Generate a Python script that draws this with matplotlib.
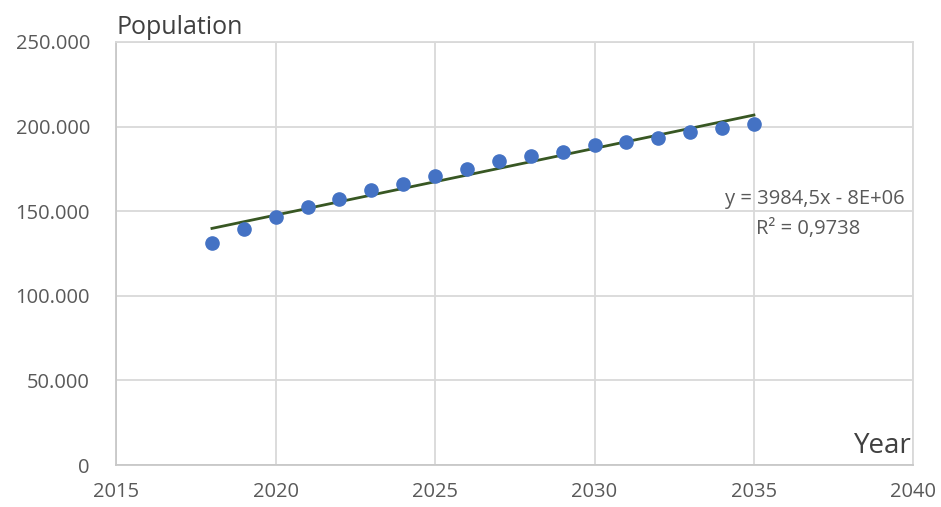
import numpy as np
import matplotlib.pyplot as plt
from matplotlib.ticker import FuncFormatter

# data
years = [2018, 2019, 2020, 2021, 2022, 2023, 2024, 2025, 2026,
         2027, 2028, 2029, 2030, 2031, 2032, 2033, 2034, 2035]
population = [131000, 139300, 146700, 152700, 157500, 162700, 166100, 170800, 174700,
              179500, 182800, 185200, 188900, 191100, 193400, 196800, 199000, 201700]
x_ticks = [2015, 2020, 2025, 2030, 2035, 2040]
y_ticks = [0, 50000, 100000, 150000, 200000, 250000]
eq_text = "y = 3984,5x - 8E+06"
r2_text = "R² = 0,9738"

plt.rcParams['font.family'] = ['Open Sans', 'DejaVu Sans']

fig = plt.figure(figsize=(9.41, 5.07), dpi=100)
ax = fig.add_axes([0.1236, 0.0828, 0.8470, 0.8344])

grid_c = "#D9D9D9"
text_c = "#595959"

ax.set_xlim(2015, 2040)
ax.set_ylim(0, 250000)
ax.set_xticks(x_ticks)
ax.set_yticks(y_ticks)
ax.yaxis.set_major_formatter(FuncFormatter(lambda v, p: "0" if v == 0 else f"{int(v):,}".replace(",", ".")))
ax.grid(True, color=grid_c, linewidth=1.3)
ax.set_axisbelow(True)
for s in ax.spines.values():
    s.set_color(grid_c)
    s.set_linewidth(1.3)
ax.spines['left'].set_color("#C8C8C8")
ax.spines['bottom'].set_color("#C8C8C8")
ax.tick_params(length=0, labelsize=14.5, labelcolor=text_c)
ax.tick_params(axis='y', pad=19)
ax.tick_params(axis='x', pad=12)

# linear trend line
coef = np.polyfit(years, population, 1)
tx = np.array([years[0], years[-1]])
ax.plot(tx, np.polyval(coef, tx), color="#385723", linewidth=2.0, zorder=3)

ax.plot(years, population, 'o', color="#4472C4", markersize=9.5, zorder=4)

ax.text(0.9615, 0.6075, eq_text, transform=fig.transFigure, ha='right', va='center',
        fontsize=14.5, color=text_c)
ax.text(0.859, 0.548, r2_text, transform=fig.transFigure, ha='center', va='center',
        fontsize=14.5, color=text_c)

fig.text(0.1236, 0.945, "Population", ha='left', va='center', fontsize=18, color="#404040")
fig.text(0.969, 0.120, "Year", ha='right', va='center', fontsize=20, color="#404040")

fig.savefig("out.png", dpi=100)
